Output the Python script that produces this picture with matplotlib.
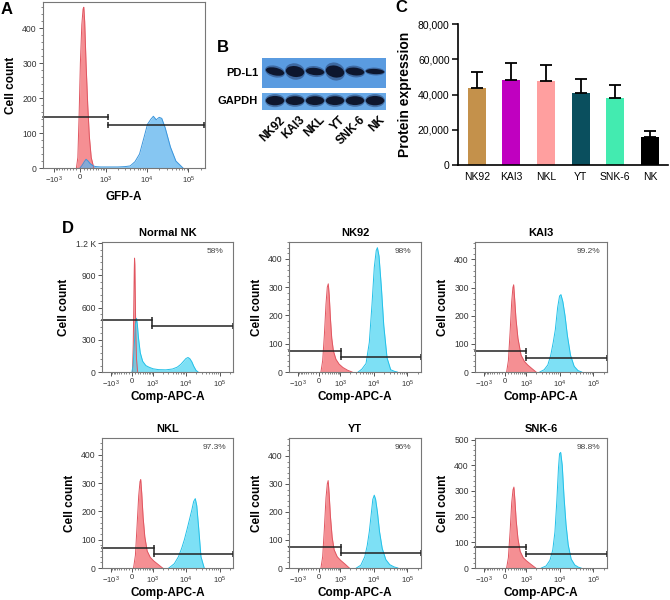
import numpy as np
import matplotlib.pyplot as plt
from matplotlib.patches import Ellipse, Rectangle
from matplotlib.ticker import FixedLocator, AutoMinorLocator, StrMethodFormatter

plt.rcParams['font.family'] = ['Liberation Sans', 'DejaVu Sans']
plt.rcParams['mathtext.fontset'] = 'custom'
plt.rcParams['mathtext.rm'] = 'Liberation Sans'
plt.rcParams['mathtext.it'] = 'Liberation Sans:italic'
plt.rcParams['mathtext.bf'] = 'Liberation Sans:bold'

# ---- panel A: GFP histogram ----
a_red_x = [-100, -60, -25, 10, 50, 85, 106, 130, 170, 220, 270, 330, 420]
a_red_y = [0, 30, 150, 300, 410, 455, 460, 420, 300, 180, 90, 30, 0]
a_blue_x = [0, 60, 120, 170, 230, 300, 400, 490, 700, 1000, 2000, 3000, 4000, 5200, 6700, 8700,
            10400, 12600, 14400, 16900, 19900, 22900, 27700, 37000, 50000, 74000]
a_blue_y = [0, 8, 18, 25, 20, 12, 6, 4, 3, 3, 3, 4, 6, 18, 40, 90,
            125, 140, 148, 138, 145, 142, 115, 60, 20, 0]

# ---- panel B: western blot lanes ----
lanes = ['NK92', 'KAI3', 'NKL', 'YT', 'SNK-6', 'NK']
pdl1_band = [0.15, 0.21, 0.14, 0.23, 0.15, 0.10]     # band thickness (relative)
pdl1_tilt = [-4, -2, -2, -3, -2, -1]
gapdh_band = [0.18, 0.17, 0.17, 0.17, 0.17, 0.18]

# ---- panel C: protein expression ----
cats = ['NK92', 'KAI3', 'NKL', 'YT', 'SNK-6', 'NK']
means = [43500, 48500, 47500, 41000, 38000, 16000]
errs = [9000, 9500, 9500, 8000, 7500, 3500]
bar_colors = ['#c4914b', '#c000c0', '#ff9f9f', '#0a4f5e', '#43ebb0', '#000000']

# ---- panel D: Comp-APC-A histograms ----
d_titles = ['Normal NK', 'NK92', 'KAI3', 'NKL', 'YT', 'SNK-6']
d_pct = ['58%', '98%', '99.2%', '97.3%', '96%', '98.8%']
d_ymax = [1210, 460, 462, 459, 464, 506]
d_yticks = [[0, 300, 600, 900, 1200], [0, 100, 200, 300, 400], [0, 100, 200, 300, 400],
            [0, 100, 200, 300, 400], [0, 100, 200, 300, 400], [0, 100, 200, 300, 400, 500]]
d_ylabels = [['0', '300', '600', '900', '1.2 K']] + [None] * 5
gate_x = [950, 1050, 1000, 1050, 1030, 1000]
gate_left = [480, 74, 74, 72, 76, 81]
gate_right = [427, 53, 50, 48, 52, 54]

red_x = [
    [20, 45, 65, 80, 90, 100, 115, 135, 160, 200],
    [60, 120, 180, 240, 290, 330, 370, 420, 480, 560, 700, 900, 1200, 1700, 2300],
    [50, 110, 170, 230, 275, 305, 345, 400, 490, 650, 850, 1100, 1500, 2000],
    [55, 120, 180, 240, 290, 320, 360, 420, 500, 620, 800, 1050, 1400, 2000],
    [60, 120, 180, 240, 290, 325, 365, 420, 500, 600, 780, 1000, 1400, 1900],
    [50, 110, 170, 230, 280, 315, 355, 410, 490, 600, 780, 1000, 1400, 1950],
]
red_y = [
    [0, 250, 650, 950, 1060, 1000, 700, 350, 120, 0],
    [0, 40, 130, 240, 300, 312, 270, 190, 120, 75, 45, 28, 16, 6, 0],
    [0, 40, 140, 250, 300, 310, 260, 190, 120, 60, 38, 25, 12, 0],
    [0, 45, 150, 255, 305, 312, 265, 180, 110, 60, 38, 25, 14, 0],
    [0, 40, 140, 250, 300, 312, 265, 185, 110, 65, 40, 28, 14, 0],
    [0, 40, 140, 255, 305, 315, 265, 185, 115, 65, 40, 28, 14, 0],
]
blue_x = [
    [0, 40, 80, 120, 160, 190, 230, 300, 400, 550, 720, 1000, 1500, 2500, 4000, 5500, 7000,
     8500, 10000, 11500, 13000, 15000, 17000, 20000, 23000],
    [3500, 4500, 6000, 7500, 9000, 10500, 12000, 13000, 14500, 17000, 20000, 25000, 32000, 42000, 50000],
    [2600, 3500, 4500, 5500, 6500, 7500, 8800, 10000, 11000, 12500, 14500, 17000, 21000, 27000, 35000, 45000],
    [3100, 4500, 6000, 7500, 9000, 11000, 13000, 15000, 17000, 19000, 21000, 24000, 28000, 35000],
    [3100, 4200, 5500, 6500, 7500, 8500, 9500, 10500, 11500, 13000, 15000, 18000, 23000, 30000, 40000, 52000],
    [2900, 4000, 5200, 6300, 7300, 8300, 9300, 10000, 10800, 12000, 13500, 15500, 18000, 22000, 28000, 36000, 43000],
]
blue_y = [
    [0, 60, 250, 430, 500, 440, 320, 180, 100, 60, 45, 30, 22, 20, 28, 45, 70,
     100, 125, 135, 125, 95, 55, 15, 0],
    [0, 10, 30, 105, 240, 370, 430, 440, 410, 300, 165, 50, 8, 2, 0],
    [0, 8, 25, 60, 105, 150, 230, 270, 275, 250, 200, 130, 60, 20, 5, 0],
    [0, 15, 40, 70, 100, 140, 175, 205, 235, 245, 220, 140, 40, 0],
    [0, 10, 40, 80, 130, 190, 245, 260, 245, 200, 130, 70, 30, 12, 4, 0],
    [0, 8, 30, 70, 140, 260, 390, 445, 450, 400, 280, 170, 90, 35, 12, 3, 0],
]

xt_vals = [-1000, 0, 1000, 10000, 100000]
xt_labels = [r'$-10^{3}$', '0', r'$10^{3}$', r'$10^{4}$', r'$10^{5}$']
x_minor = ([-100 * k for k in range(1, 10)] + [100 * k for k in range(1, 10)] +
           [1000 * k for k in range(2, 10)] + [10000 * k for k in range(2, 10)] + [200000])
XMIN, XMAX = -1900, 250000

W, H = 670, 600
fig = plt.figure(figsize=(6.7, 6.0), dpi=100)


def box(l, t, r, b):
    return fig.add_axes([l / W, 1 - b / H, (r - l) / W, (b - t) / H])


def fwd(x):
    return np.arcsinh(np.asarray(x, dtype=float) / 500.0)


def inv(u):
    return 500.0 * np.sinh(np.asarray(u, dtype=float))


def flow_axes(ax, ymax, yticks, ylabels, xlabel):
    ax.set_xscale('function', functions=(fwd, inv))
    ax.set_xlim(XMIN, XMAX)
    ax.set_ylim(0, ymax)
    ax.xaxis.set_major_locator(FixedLocator(xt_vals))
    ax.set_xticklabels(xt_labels)
    ax.xaxis.set_minor_locator(FixedLocator(x_minor))
    ax.set_yticks(yticks)
    if ylabels is not None:
        ax.set_yticklabels(ylabels)
    ax.yaxis.set_minor_locator(AutoMinorLocator(5))
    ax.tick_params(axis='both', which='major', length=3, width=0.7, color='#555', labelcolor='#333')
    ax.tick_params(axis='both', which='minor', length=1.5, width=0.5, color='#555')
    ax.tick_params(axis='x', labelsize=5.5, pad=1.5)
    ax.tick_params(axis='y', labelsize=6.2, pad=1.5)
    for s in ax.spines.values():
        s.set_color('#777')
        s.set_linewidth(0.8)
    ax.set_ylabel('Cell count', fontsize=8.5, fontweight='bold', labelpad=4)
    ax.set_xlabel(xlabel, fontsize=8.5, fontweight='bold', labelpad=1)


def gates(ax, gx, yl, yr):
    ax.plot([XMIN, gx], [yl, yl], color='#222', lw=1.1, clip_on=False)
    ax.plot([gx], [yl], marker='|', ms=5, mew=1.1, color='#222', clip_on=False)
    ax.plot([gx, XMAX * 0.97], [yr, yr], color='#222', lw=1.1, clip_on=False)
    ax.plot([gx, XMAX * 0.97], [yr, yr], ls='none', marker='|', ms=5, mew=1.1, color='#222', clip_on=False)


# ---------------- A ----------------
axA = box(43, 2, 205, 168)
axA.fill_between(a_red_x, a_red_y, color='#f47c80', alpha=0.85, lw=0)
axA.plot(a_red_x, a_red_y, color='#e05560', lw=0.7)
axA.fill_between(a_blue_x, a_blue_y, color='#5db4ee', alpha=0.75, lw=0)
axA.plot(a_blue_x, a_blue_y, color='#3a95dc', lw=0.7)
flow_axes(axA, 475, [0, 100, 200, 300, 400], None, 'GFP-A')
axA.xaxis.labelpad = 4
gates(axA, 1100, 147, 122)
fig.text(7 / W, 1 - 9 / H, 'A', fontsize=12, fontweight='bold', ha='center', va='center')

# ---------------- B ----------------
axB = box(262, 58, 386, 110)
axB.set_xlim(-0.65, 5.55)
axB.set_ylim(0, 1)
axB.axis('off')
axB.add_patch(Rectangle((-0.65, 0.42), 6.2, 0.58, color='#5a9be0', lw=0))
axB.add_patch(Rectangle((-0.65, 0.0), 6.2, 0.33, color='#68a8e6', lw=0))
for i in range(len(lanes)):
    axB.add_patch(Ellipse((i, 0.74), 1.0, pdl1_band[i] * 1.5, angle=pdl1_tilt[i],
                          color='#1c2c55', alpha=0.45, lw=0))
    axB.add_patch(Ellipse((i, 0.74), 0.92, pdl1_band[i], angle=pdl1_tilt[i],
                          color='#0b1228', alpha=0.95, lw=0))
    axB.add_patch(Ellipse((i, 0.18), 1.0, gapdh_band[i] * 1.4, color='#1c2c55', alpha=0.45, lw=0))
    axB.add_patch(Ellipse((i, 0.18), 0.92, gapdh_band[i], color='#0b1228', alpha=0.95, lw=0))
    axB.text(i + 0.2, -0.08, lanes[i], rotation=45, ha='right', va='top', rotation_mode='anchor',
             fontsize=8.5, fontweight='bold')
axB.text(-0.85, 0.72, 'PD-L1', ha='right', va='center', fontsize=8, fontweight='bold')
axB.text(-0.85, 0.17, 'GAPDH', ha='right', va='center', fontsize=8, fontweight='bold')
fig.text(223 / W, 1 - 48 / H, 'B', fontsize=12, fontweight='bold', ha='center', va='center')

# ---------------- C ----------------
axC = box(458, 24, 668, 165)
xc = np.arange(len(cats))
axC.bar(xc, means, width=0.52, color=bar_colors)
axC.errorbar(xc, means, yerr=[np.zeros(len(errs)), errs], fmt='none', ecolor='black',
             capsize=4, elinewidth=1.3, capthick=1.3)
axC.set_xlim(-0.54, 5.52)
axC.set_ylim(0, 80000)
axC.set_yticks([0, 20000, 40000, 60000, 80000])
axC.yaxis.set_major_formatter(StrMethodFormatter('{x:,.0f}'))
axC.set_xticks(xc)
axC.set_xticklabels(cats)
axC.spines['top'].set_visible(False)
axC.spines['right'].set_visible(False)
for s in ['left', 'bottom']:
    axC.spines[s].set_linewidth(1.2)
axC.tick_params(axis='both', length=4, width=1.1, labelsize=7.5, pad=2)
axC.tick_params(axis='x', length=0, pad=5)
axC.set_ylabel('Protein expression', fontsize=10, fontweight='bold', labelpad=4)
fig.text(401 / W, 1 - 8 / H, 'C', fontsize=12, fontweight='bold', ha='center', va='center')

# ---------------- D ----------------
cols = [(102, 233), (289, 421), (475, 607)]
rows = [(242, 372), (438, 568)]
for k in range(6):
    l, r = cols[k % 3]
    t, b = rows[k // 3]
    ax = box(l, t, r, b)
    ax.fill_between(red_x[k], red_y[k], color='#f47c80', alpha=0.85, lw=0)
    ax.plot(red_x[k], red_y[k], color='#e05560', lw=0.7)
    ax.fill_between(blue_x[k], blue_y[k], color='#52d6f2', alpha=0.75, lw=0)
    ax.plot(blue_x[k], blue_y[k], color='#22c0e8', lw=0.7)
    flow_axes(ax, d_ymax[k], d_yticks[k], d_ylabels[k], 'Comp-APC-A')
    gates(ax, gate_x[k], gate_left[k], gate_right[k])
    ax.set_title(d_titles[k], fontsize=8, fontweight='bold', pad=4)
    ax.text(0.86, 0.93, d_pct[k], transform=ax.transAxes, ha='center', va='center',
            fontsize=6, color='#444')
fig.text(68 / W, 1 - 229 / H, 'D', fontsize=12, fontweight='bold', ha='center', va='center')

fig.savefig('out.png', dpi=100)
